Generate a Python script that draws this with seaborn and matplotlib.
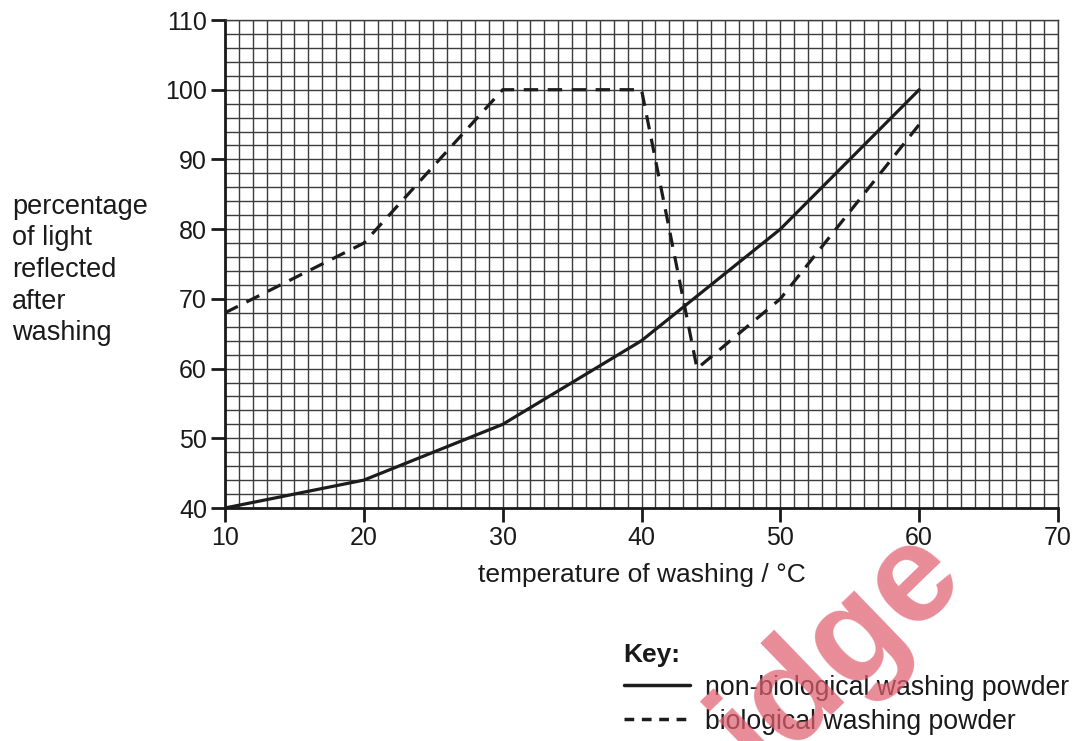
import matplotlib
matplotlib.use("Agg")
import matplotlib.pyplot as plt
import seaborn as sns
import pandas as pd
import numpy as np
from matplotlib.lines import Line2D

# ---- data ----
nonbio_temp = [10, 20, 30, 40, 50, 60]
nonbio_refl = [40, 44, 52, 64, 80, 100]
bio_temp = [10, 20, 30, 40, 44, 50, 60]
bio_refl = [68, 78, 100, 100, 60, 70, 95]
x_ticks = [10, 20, 30, 40, 50, 60, 70]
y_ticks = [40, 50, 60, 70, 80, 90, 100, 110]
series_names = ["non-biological washing powder", "biological washing powder"]

sns.set_theme(style="white")
plt.rcParams['font.family'] = ['Liberation Sans', 'DejaVu Sans']

df = pd.concat([
    pd.DataFrame({"temp": nonbio_temp, "refl": nonbio_refl, "powder": series_names[0]}),
    pd.DataFrame({"temp": bio_temp, "refl": bio_refl, "powder": series_names[1]}),
], ignore_index=True)

fig = plt.figure(figsize=(10.8, 7.41), dpi=100)
ax = fig.add_axes([225/1080, 1-508/741, (1058-225)/1080, (508-20)/741])

line_col = "#1c1c1c"
grid_col = "#3c3c3c"
text_col = "#1a1a1a"

sns.lineplot(data=df, x="temp", y="refl", style="powder", ax=ax,
             color=line_col, linewidth=2.3, sort=False, estimator=None,
             dashes={series_names[0]: "", series_names[1]: (4.5, 3.0)},
             legend=False, zorder=3)

ax.set_xlim(10, 70)
ax.set_ylim(40, 110)
ax.set_xticks(x_ticks)
ax.set_yticks(y_ticks)
ax.set_xticks(np.arange(10, 71, 1), minor=True)
ax.set_yticks(np.arange(40, 111, 2), minor=True)
ax.grid(which="both", color=grid_col, linewidth=1.0, zorder=1)
ax.set_axisbelow(True)

for s in ["top", "right"]:
    ax.spines[s].set_color(grid_col)
    ax.spines[s].set_linewidth(1.0)
for s in ["left", "bottom"]:
    ax.spines[s].set_color("#1a1a1a")
    ax.spines[s].set_linewidth(2.0)

ax.tick_params(which="major", direction="out", length=10, width=2, color="#1a1a1a",
               labelsize=18, labelcolor=text_col, pad=3, left=True, bottom=True)
ax.tick_params(which="minor", length=0)

ax.set_xlabel("temperature of washing / °C", fontsize=19, color=text_col, labelpad=9)
ax.set_ylabel("")

fig.text(12/1080, 1-270/741, "percentage\nof light\nreflected\nafter\nwashing",
         fontsize=19.5, color=text_col, ha="left", va="center", linespacing=1.28)

# Key
handles = [Line2D([], [], color=line_col, linewidth=2.5, linestyle="-"),
           Line2D([], [], color=line_col, linewidth=2.5, linestyle=(0, (2.8, 2.2)))]
leg = fig.legend(handles, series_names, loc="upper left",
                 bbox_to_anchor=(613/1080, 1-632/741), frameon=False,
                 fontsize=19.2, title="Key:", handlelength=2.5, handletextpad=0.55,
                 labelspacing=0.3, borderaxespad=0, alignment="left",
                 labelcolor=text_col)
leg.get_title().set_fontweight("bold")
leg.get_title().set_fontsize(19)
leg.get_title().set_color(text_col)

# watermark fragment
fig.text(838/1080, 1-650/741, "idge", fontsize=100, fontweight="bold",
         color="#e06070", alpha=0.72, rotation=44, ha="center", va="center", zorder=10)

fig.savefig("out.png", dpi=100)
